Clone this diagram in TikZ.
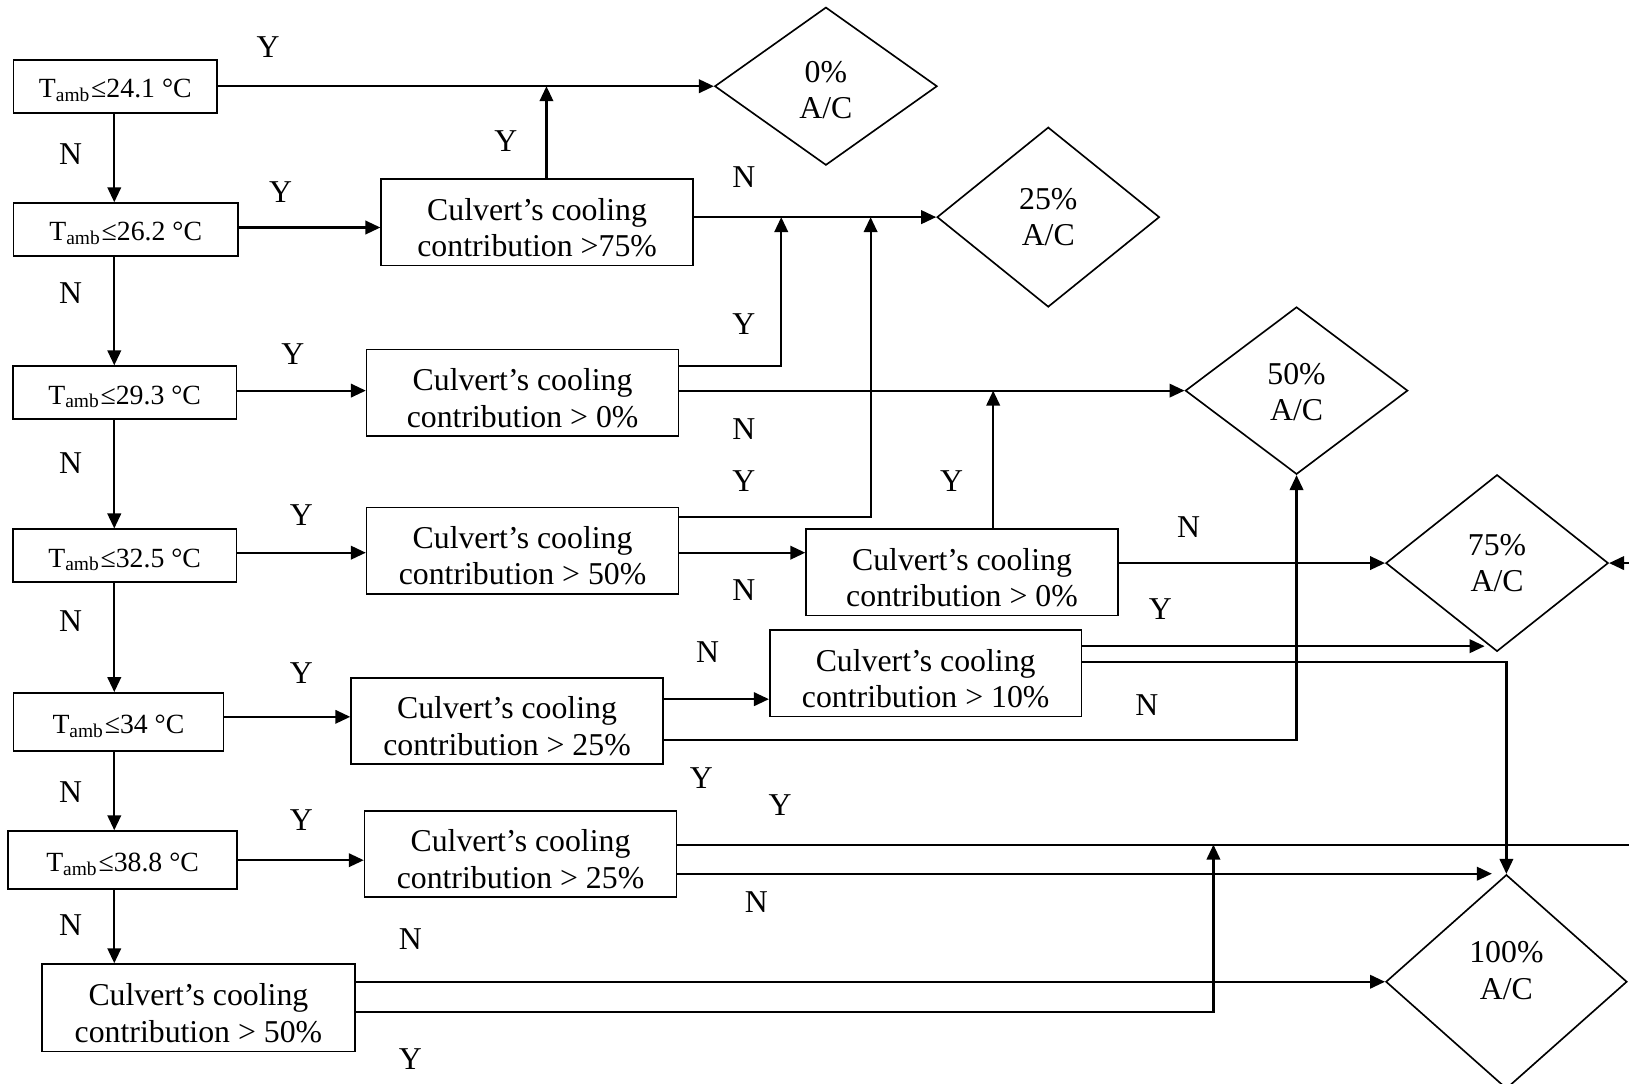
\documentclass[tikz,border=0pt]{standalone}
\usepackage{fontspec}
\setmainfont{Liberation Serif}
\usetikzlibrary{shapes.geometric,arrows.meta}

\tikzset{
  tbox/.style={draw, line width=0.45pt, minimum height=0.51cm, inner sep=1pt,
    font=\fontsize{7.6}{10}\selectfont, text height=6.2pt, text depth=0pt},
  cbox/.style={draw, line width=0.45pt, minimum width=3cm, minimum height=0.83cm, align=center, inner sep=1pt,
    text height=18.8pt, text depth=0pt},
  acbox/.style={diamond, draw, line width=0.45pt, align=center, inner sep=0pt},
  arr/.style={line width=0.6pt, -{Triangle[length=4.1pt,width=3.7pt]}},
  wire/.style={line width=0.6pt},
  yn/.style={inner sep=0pt}
}

\begin{document}
\begin{tikzpicture}[x=0.01cm, y=-0.01cm, font=\fontsize{8.7}{10}\selectfont]
    \useasboundingbox (0,0) rectangle (1568,1043);
    %temperature checks
    \node[tbox, minimum width=1.96cm] (t1) at (111,83) {T\textsubscript{amb}≤24.1 °C};
    \node[tbox, minimum width=2.16cm] (t2) at (121,221) {T\textsubscript{amb}≤26.2 °C};
    \node[tbox, minimum width=2.15cm] (t3) at (120,378) {T\textsubscript{amb}≤29.3 °C};
    \node[tbox, minimum width=2.15cm] (t4) at (120,535) {T\textsubscript{amb}≤32.5 °C};
    \node[tbox, minimum width=2.02cm, minimum height=0.56cm] (t5) at (114,695) {T\textsubscript{amb}≤34 °C};
    \node[tbox, minimum width=2.2cm, minimum height=0.56cm] (t6) at (118,828) {T\textsubscript{amb}≤38.8 °C};
    %culvert checks
    \node[cbox] (ca) at (517,214) {Culvert’s cooling\\contribution >75\%};
    \node[cbox] (cb) at (503,378) {Culvert’s cooling\\contribution > 0\%};
    \node[cbox] (cc) at (503,530) {Culvert’s cooling\\contribution > 50\%};
    \node[cbox] (cd) at (926,551) {Culvert’s cooling\\contribution > 0\%};
    \node[cbox] (ce) at (891,648) {Culvert’s cooling\\contribution > 10\%};
    \node[cbox] (cf) at (488,694) {Culvert’s cooling\\contribution > 25\%};
    \node[cbox] (cg) at (501,822) {Culvert’s cooling\\contribution > 25\%};
    \node[cbox, minimum width=3.01cm, minimum height=0.84cm] (c7) at (191,970) {Culvert’s cooling\\contribution > 50\%};
    %A/C levels
    \node[acbox, minimum width=2.14cm, minimum height=1.52cm, text height=17.9pt, text depth=0pt] (d0) at (795,83) {0\%\\A/C};
    \node[acbox, minimum width=2.14cm, minimum height=1.73cm] (d25) at (1009,209) {25\%\\A/C};
    \node[acbox, minimum width=2.14cm, minimum height=1.61cm, text height=16.5pt, text depth=0pt] (d50) at (1248,376) {50\%\\A/C};
    \node[acbox, minimum width=2.14cm, minimum height=1.70cm] (d75) at (1441,542) {75\%\\A/C};
    \node[acbox, minimum width=2.32cm, minimum height=2.06cm, text depth=6.2pt] (d100) at (1450,945) {100\%\\A/C};
    %joins
    \coordinate (j0) at (526,83);
    \coordinate (j1) at (752,209);
    \coordinate (j2) at (838,209);
    \coordinate (j3) at (956,376);
    \coordinate (j4) at (1168,813);
    \coordinate (k75) at (1429,622);
    \coordinate (k100) at (1436,841);
    \coordinate (e1) at (1568,813);
    \coordinate (e2) at (1568,542);
    %N branch
    \draw[arr] (t1.south -| 110,0) -- (t2.north -| 110,0);
    \draw[arr] (t2.south -| 110,0) -- (t3.north -| 110,0);
    \draw[arr] (t3.south -| 110,0) -- (t4.north -| 110,0);
    \draw[arr] (t4.south -| 110,0) -- (t5.north -| 110,0);
    \draw[arr] (t5.south -| 110,0) -- (t6.north -| 110,0);
    \draw[arr] (t6.south -| 110,0) -- (c7.north -| 110,0);
    %Y branch
    \draw[arr] (t1) -- (d0);
    \draw[arr] (t2.east |- 0,219) -- (ca.west |- 0,219);
    \draw[arr] (t3.east |- 0,376) -- (cb.west |- 0,376);
    \draw[arr] (t4.east |- 0,532) -- (cc.west |- 0,532);
    \draw[arr] (t5.east |- 0,690) -- (cf.west |- 0,690);
    \draw[arr] (t6.east |- 0,828) -- (cg.west |- 0,828);
    %lines
    \draw[arr] (ca.north -| j0) -- (j0);
    \draw[arr] (ca.east |- d25) -- (d25);
    \draw[arr] (cb.east |- 0,352) -| (j1);
    \draw[arr] (cb.east |- d50) -- (d50);
    \draw[arr] (cc.east |- 0,498) -| (j2);
    \draw[arr] (cc.east |- 0,532) -- (cd.west |- 0,532);
    \draw[arr] (cd.north -| j3) -- (j3);
    \draw[arr] (cd.east |- d75) -- (d75);
    \draw[arr] (cf.east |- 0,673) -- (ce.west |- 0,673);
    \draw[arr] (cf.east |- 0,712) -| (d50.south);
    \draw[arr] (ce.east |- 0,622) -- (k75);
    \draw[arr] (ce.east |- 0,637) -| (d100.north);
    \draw[wire] (cg.east |- 0,813) -- (e1);
    \draw[arr] (e2) -- (d75.east);
    \draw[arr] (cg.east |- 0,841) -- (k100);
    \draw[arr] (c7.east |- d100) -- (d100);
    \draw[arr] (c7.east |- 0,974) -| (j4);
    %Y/N labels
    \node[yn] (y1) at (258,45) {Y};
    \node[yn] (n1) at (68,148) {N};
    \node[yn] (y2) at (487,136) {Y};
    \node[yn] (y3) at (270,185) {Y};
    \node[yn] (n2) at (716,170) {N};
    \node[yn] (n3) at (68,282) {N};
    \node[yn] (y4) at (716,312) {Y};
    \node[yn] (y5) at (282,341) {Y};
    \node[yn] (n4) at (716,413) {N};
    \node[yn] (n5) at (68,446) {N};
    \node[yn] (y6) at (716,463) {Y};
    \node[yn] (y7) at (916,463) {Y};
    \node[yn] (y8) at (290,496) {Y};
    \node[yn] (n6) at (1144,507) {N};
    \node[yn] (n7) at (716,568) {N};
    \node[yn] (y9) at (1117,586) {Y};
    \node[yn] (n8) at (68,598) {N};
    \node[yn] (n9) at (681,628) {N};
    \node[yn] (y10) at (290,648) {Y};
    \node[yn] (n10) at (1104,679) {N};
    \node[yn] (y11) at (675,749) {Y};
    \node[yn] (y12) at (751,775) {Y};
    \node[yn] (n11) at (68,762) {N};
    \node[yn] (y13) at (290,789) {Y};
    \node[yn] (n12) at (728,868) {N};
    \node[yn] (n13) at (68,890) {N};
    \node[yn] (n14) at (395,904) {N};
    \node[yn] (y14) at (395,1019) {Y};
\end{tikzpicture}
\end{document}
